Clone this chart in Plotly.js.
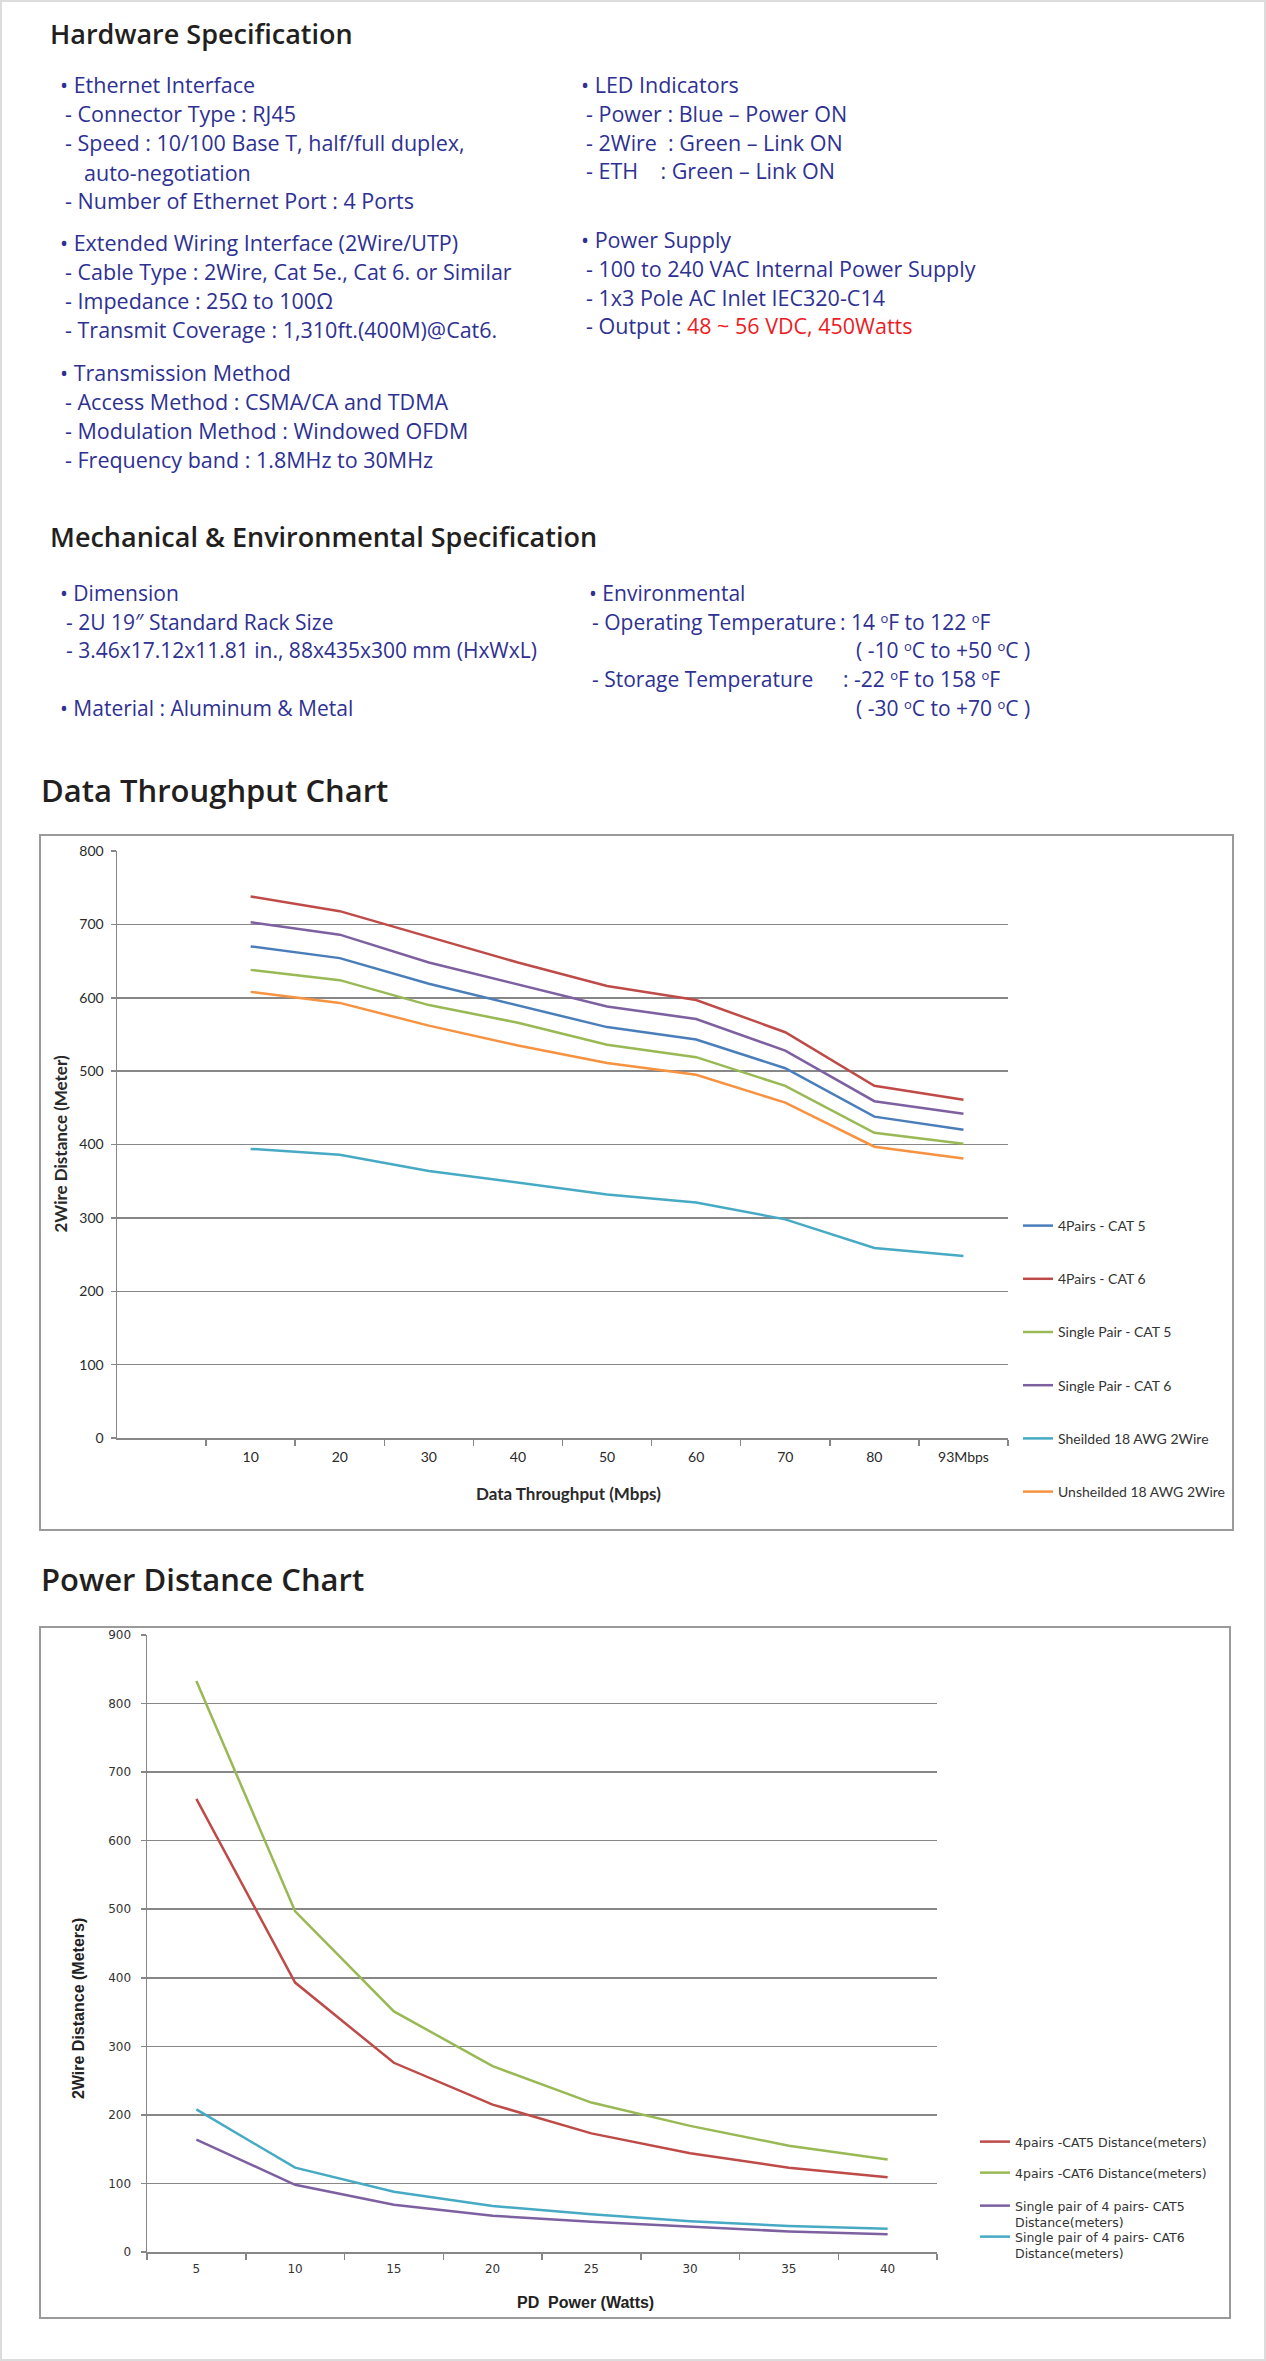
<!DOCTYPE html>
<html>
<head>
<meta charset="utf-8">
<script src="https://cdn.plot.ly/plotly-3.0.1.min.js"></script>
<style>
html,body{margin:0;padding:0;background:#fff;}
#page{position:relative;width:1266px;height:2361px;overflow:hidden;background:#fff;}
#frame{position:absolute;left:0;top:0;width:1266px;height:2361px;box-sizing:border-box;border:2px solid #dcdcdc;pointer-events:none;z-index:5;}
.ln{position:absolute;white-space:pre;font-family:"Open Sans","Noto Sans",sans-serif;color:#2E3192;}
.hd{position:absolute;white-space:pre;font-family:"Open Sans","Noto Sans",sans-serif;font-weight:600;color:#231F20;}
.red{color:#ED1C24;}
.deg{font-size:0.62em;vertical-align:0.55em;line-height:0;}
.box{position:absolute;box-sizing:border-box;border:2px solid #9a9a9a;background:#fff;}
</style>
</head>
<body>
<div id="page">
  <div id="frame"></div>
  <div class="box" style="left:39px;top:834px;width:1195px;height:697px;"><div id="chart1"></div></div>
  <div class="box" style="left:39px;top:1626px;width:1192px;height:693px;"><div id="chart2"></div></div>
</div>
<script>
// ---------------- Data: Data Throughput Chart ----------------
const throughputCats = ['10', '20', '30', '40', '50', '60', '70', '80', '93Mbps'];
const fourPairsCat5  = [670, 654, 619, 590, 560, 543, 504, 438, 420];
const fourPairsCat6  = [738, 718, 683, 648, 616, 597, 553, 480, 461];
const singlePairCat5 = [638, 624, 590, 566, 536, 519, 480, 416, 401];
const singlePairCat6 = [703, 686, 648, 618, 588, 571, 528, 459, 442];
const shielded18AWG  = [394, 386, 364, 348, 332, 321, 298, 259, 248];
const unshielded18AWG= [608, 593, 562, 535, 511, 495, 457, 397, 381];
const throughputNames = ['4Pairs - CAT 5', '4Pairs - CAT 6', 'Single Pair - CAT 5',
  'Single Pair - CAT 6', 'Sheilded 18 AWG 2Wire', 'Unsheilded 18 AWG 2Wire'];

// ---------------- Data: Power Distance Chart ----------------
const powerCats = ['5', '10', '15', '20', '25', '30', '35', '40'];
const fourPairsCat5Dist  = [661, 393, 276, 215, 173, 144, 123, 109];
const fourPairsCat6Dist  = [833, 497, 351, 271, 218, 184, 155, 135];
const singleOf4Cat5Dist  = [164, 98, 69, 53, 44, 37, 30, 26];
const singleOf4Cat6Dist  = [208, 123, 88, 67, 55, 45, 38, 34];
const powerNames = ['4pairs -CAT5 Distance(meters)', '4pairs -CAT6 Distance(meters)',
  'Single pair of 4 pairs- CAT5<br>Distance(meters)', 'Single pair of 4 pairs- CAT6<br>Distance(meters)'];

// ---------------- Spec text ----------------
const D = '<span class="deg">o</span>';
const specText = [
  ['hd', 50, 33, 27, 'Hardware Specification'],
  ['ln', 60, 84, 21.5, '• Ethernet Interface'],
  ['ln', 65, 113, 21.5, '- Connector Type : RJ45'],
  ['ln', 65, 142, 21.5, '- Speed : 10/100 Base T, half/full duplex,'],
  ['ln', 84, 172, 21.5, 'auto-negotiation'],
  ['ln', 65, 200, 21.5, '- Number of Ethernet Port : 4 Ports'],
  ['ln', 60, 242, 21.5, '• Extended Wiring Interface (2Wire/UTP)'],
  ['ln', 65, 271, 21.5, '- Cable Type : 2Wire, Cat 5e., Cat 6. or Similar'],
  ['ln', 65, 300, 21.5, '- Impedance : 25Ω to 100Ω'],
  ['ln', 65, 329, 21.5, '- Transmit Coverage : 1,310ft.(400M)@Cat6.'],
  ['ln', 60, 372, 21.5, '• Transmission Method'],
  ['ln', 65, 401, 21.5, '- Access Method : CSMA/CA and TDMA'],
  ['ln', 65, 430, 21.5, '- Modulation Method : Windowed OFDM'],
  ['ln', 65, 459, 21.5, '- Frequency band : 1.8MHz to 30MHz'],
  ['ln', 581, 84, 21.5, '• LED Indicators'],
  ['ln', 586, 113, 21.5, '- Power : Blue – Power ON'],
  ['ln', 586, 142, 21.5, '- 2Wire  : Green – Link ON'],
  ['ln', 586, 170, 21.5, '- ETH    : Green – Link ON'],
  ['ln', 581, 239, 21.5, '• Power Supply'],
  ['ln', 586, 268, 21.5, '- 100 to 240 VAC Internal Power Supply'],
  ['ln', 586, 297, 21.5, '- 1x3 Pole AC Inlet IEC320-C14'],
  ['ln', 586, 325, 21.5, '- Output : <span class="red">48 ~ 56 VDC, 450Watts</span>'],
  ['hd', 50, 536, 27, 'Mechanical &amp; Environmental Specification'],
  ['ln', 60, 593, 21, '• Dimension'],
  ['ln', 66, 622, 21, '- 2U 19″ Standard Rack Size'],
  ['ln', 66, 650, 21, '- 3.46x17.12x11.81 in., 88x435x300 mm (HxWxL)'],
  ['ln', 60, 708, 21, '• Material : Aluminum &amp; Metal'],
  ['ln', 589, 593, 21, '• Environmental'],
  ['ln', 592, 622, 21, '- Operating Temperature'],
  ['ln', 840, 622, 21, ': 14 ' + D + 'F to 122 ' + D + 'F'],
  ['ln', 856, 650, 21, '( -10 ' + D + 'C to +50 ' + D + 'C )'],
  ['ln', 592, 679, 21, '- Storage Temperature'],
  ['ln', 843, 679, 21, ': -22 ' + D + 'F to 158 ' + D + 'F'],
  ['ln', 856, 708, 21, '( -30 ' + D + 'C to +70 ' + D + 'C )'],
  ['hd', 41, 790, 31, 'Data Throughput Chart'],
  ['hd', 41, 1579, 31, 'Power Distance Chart']
];
const page = document.getElementById('page');
specText.forEach(function (s) {
  const el = document.createElement('div');
  el.className = s[0];
  const lh = Math.round(s[3] * 1.36);
  el.style.left = s[1] + 'px';
  el.style.top = (s[2] - lh / 2) + 'px';
  el.style.fontSize = s[3] + 'px';
  el.style.lineHeight = lh + 'px';
  el.innerHTML = s[4];
  page.appendChild(el);
});

// ---------------- Chart helpers ----------------
const GRID = '#878787';
const cfg = {staticPlot: true, displayModeBar: false};

// ---------------- Chart 1 ----------------
(function () {
  const W = 1191, H = 693, M = {l: 76, r: 224, t: 15, b: 91};
  const pw = W - M.l - M.r, ph = H - M.t - M.b;
  const colors = ['#4A7EBB', '#BE4B48', '#98B954', '#7D60A0', '#46AAC5', '#F69240'];
  const series = [fourPairsCat5, fourPairsCat6, singlePairCat5, singlePairCat6, shielded18AWG, unshielded18AWG];
  const traces = series.map(function (ys, i) {
    return {x: throughputCats, y: ys, type: 'scatter', mode: 'lines', name: throughputNames[i],
      legendgroup: 'g' + i, line: {color: colors[i], width: 2.5}};
  });
  const layout = {
    width: W, height: H, margin: {l: M.l, r: M.r, t: M.t, b: M.b, autoexpand: false},
    paper_bgcolor: '#fff', plot_bgcolor: '#fff', showlegend: true,
    xaxis: {type: 'category', range: [-1.5, 8.5], tickson: 'boundaries', ticks: 'outside', ticklen: 6,
      tickwidth: 1.5, tickcolor: GRID, showline: true, linecolor: GRID, linewidth: 1.5, showgrid: false,
      zeroline: false, ticklabelstandoff: 6, tickfont: {family: 'Lato', size: 14, color: '#2a2a2a'}},
    yaxis: {range: [0, 800], tick0: 0, dtick: 100, ticks: 'outside', ticklen: 5, tickwidth: 1.5,
      tickcolor: GRID, showline: true, linecolor: GRID, linewidth: 1.5, showgrid: true, gridcolor: GRID,
      gridwidth: 1.5, zeroline: false, ticklabelstandoff: 4, tickfont: {family: 'Lato', size: 14, color: '#2a2a2a'}},
    legend: {x: (1018 - 117) / pw, xanchor: 'left', y: (1438 - 1210) / ph, yanchor: 'top',
      traceorder: 'grouped', tracegroupgap: 32, bgcolor: 'rgba(0,0,0,0)',
      font: {family: 'Lato', size: 14, color: '#333'}},
    annotations: [
      {text: '<b>2Wire Distance (Meter)</b>', xref: 'paper', yref: 'paper', x: (60 - 117) / pw, y: 0.5,
        xanchor: 'center', yanchor: 'middle', textangle: -90, showarrow: false,
        font: {family: 'Lato', size: 17, color: '#2a2a2a'}},
      {text: '<b>Data Throughput (Mbps)</b>', xref: 'paper', yref: 'paper', x: (568 - 117) / pw,
        y: (1438 - 1493) / ph, xanchor: 'center', yanchor: 'middle', showarrow: false,
        font: {family: 'Lato', size: 17, color: '#2a2a2a'}}
    ]
  };
  Plotly.newPlot('chart1', traces, layout, cfg);
})();

// ---------------- Chart 2 ----------------
(function () {
  const W = 1188, H = 689, M = {l: 106, r: 292, t: 7, b: 65};
  const pw = W - M.l - M.r, ph = H - M.t - M.b;
  const colors = ['#BE4B48', '#98B954', '#7D60A0', '#46AAC5'];
  const series = [fourPairsCat5Dist, fourPairsCat6Dist, singleOf4Cat5Dist, singleOf4Cat6Dist];
  const legendIds = ['legend', 'legend2', 'legend3', 'legend4'];
  const legendTops = [2127, 2158, 2191, 2222];
  const traces = series.map(function (ys, i) {
    return {x: powerCats, y: ys, type: 'scatter', mode: 'lines', name: powerNames[i],
      legend: legendIds[i], line: {color: colors[i], width: 2.5}};
  });
  const layout = {
    width: W, height: H, margin: {l: M.l, r: M.r, t: M.t, b: M.b, autoexpand: false},
    paper_bgcolor: '#fff', plot_bgcolor: '#fff', showlegend: true,
    xaxis: {type: 'category', range: [-0.5, 7.5], tickson: 'boundaries', ticks: 'outside', ticklen: 6,
      tickwidth: 1.5, tickcolor: GRID, showline: true, linecolor: GRID, linewidth: 1.5, showgrid: false,
      zeroline: false, ticklabelstandoff: 5, tickfont: {family: 'DejaVu Sans', size: 12, color: '#333'}},
    yaxis: {range: [0, 900], tick0: 0, dtick: 100, ticks: 'outside', ticklen: 5, tickwidth: 1.5,
      tickcolor: GRID, showline: true, linecolor: GRID, linewidth: 1.5, showgrid: true, gridcolor: GRID,
      gridwidth: 1.5, zeroline: false, ticklabelstandoff: 7, tickfont: {family: 'DejaVu Sans', size: 12, color: '#333'}},
    annotations: [
      {text: '<b>2Wire Distance (Meters)</b>', xref: 'paper', yref: 'paper', x: (78 - 147) / pw,
        y: (2252 - 2009) / ph, xanchor: 'center', yanchor: 'middle', textangle: -90, showarrow: false,
        font: {family: 'Liberation Sans', size: 16, color: '#222'}},
      {text: '<b>PD\u00a0 Power (Watts)</b>', xref: 'paper', yref: 'paper', x: (585 - 147) / pw,
        y: (2252 - 2302) / ph, xanchor: 'center', yanchor: 'middle', showarrow: false,
        font: {family: 'Liberation Sans', size: 16, color: '#222'}}
    ]
  };
  legendIds.forEach(function (id, i) {
    layout[id] = {x: (975 - 147) / pw, xanchor: 'left', y: (2252 - legendTops[i]) / ph, yanchor: 'top',
      valign: 'top', bgcolor: 'rgba(0,0,0,0)', font: {family: 'DejaVu Sans', size: 12.5, color: '#333'}};
  });
  Plotly.newPlot('chart2', traces, layout, cfg);
})();
</script>
</body>
</html>
